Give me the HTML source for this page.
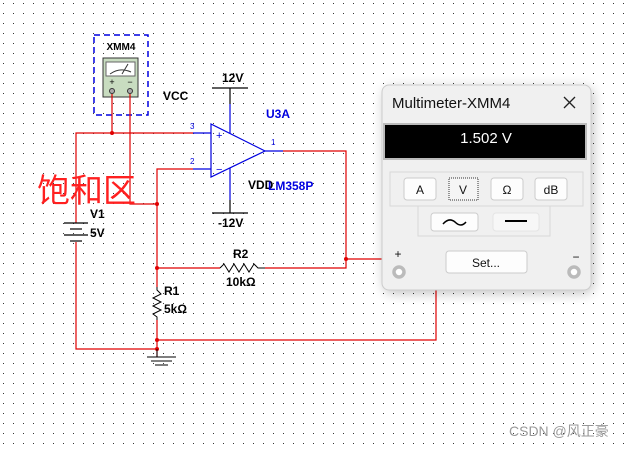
<!DOCTYPE html>
<html><head><meta charset="utf-8"><style>
body{margin:0;width:624px;height:447px;overflow:hidden;background:#fff;font-family:"Liberation Sans",sans-serif}
</style></head><body>
<svg width="624" height="447" xmlns="http://www.w3.org/2000/svg" font-family="Liberation Sans, sans-serif">
<defs>
<pattern id="d" x="3" y="3" width="10" height="10" patternUnits="userSpaceOnUse"><rect width="1" height="1" fill="#333"/></pattern>
<filter id="sh" x="-20%" y="-20%" width="140%" height="140%"><feGaussianBlur stdDeviation="6"/></filter>
</defs>
<rect width="624" height="447" fill="url(#d)"/>
<!-- XMM4 -->
<rect x="94" y="35" width="54" height="80" fill="none" stroke="#0000e0" stroke-width="1.5" stroke-dasharray="6,4"/>
<text x="121" y="50" font-size="10" text-anchor="middle" font-weight="bold">XMM4</text>
<rect x="103" y="58" width="35" height="39" fill="#c8dcc0" stroke="#333"/>
<rect x="106" y="62" width="29" height="14" fill="#fff" stroke="#666"/>
<path d="M110 74 Q120 67 131 72" fill="none" stroke="#333"/><line x1="122" y1="74" x2="128" y2="64" stroke="#333"/>
<text x="112" y="85" font-size="9" text-anchor="middle">+</text><text x="130" y="85" font-size="9" text-anchor="middle">−</text>
<circle cx="112" cy="91" r="2.5" fill="#aaa" stroke="#333"/><circle cx="130" cy="91" r="2.5" fill="#aaa" stroke="#333"/>
<g stroke="#e00000" stroke-width="1.2" fill="none">
<path d="M112 94 V133"/><path d="M130 94 V204 H157"/>
<path d="M193 133 H76 V223"/><path d="M76 242 V349 H157"/>
<path d="M193 169 H157 V287"/><path d="M157 320 V349 V357"/>
<path d="M283 151 H346 V268 H265"/><path d="M220 268 H157"/>
<path d="M346 259 H382"/><path d="M157 340 H436 V290"/>
</g>
<g fill="#e00000"><circle cx="112" cy="133" r="2"/><circle cx="157" cy="204" r="2"/><circle cx="157" cy="268" r="2"/><circle cx="346" cy="259" r="2"/><circle cx="157" cy="340" r="2"/><circle cx="157" cy="349" r="2"/></g>
<path d="M220 268 L224 264 L229 272 L234 264 L239 272 L244 264 L249 272 L254 264 L258 268 H265" fill="none" stroke="#000"/>
<path d="M157 287 V290 L161 294 L153 298 L161 302 L153 306 L161 310 L153 314 L157 317 V320" fill="none" stroke="#000"/>
<g stroke="#000" stroke-width="1.2"><line x1="64" y1="223" x2="88" y2="223"/><line x1="70" y1="229" x2="82" y2="229"/><line x1="64" y1="235" x2="88" y2="235"/><line x1="70" y1="241" x2="82" y2="241"/></g>
<g stroke="#000"><line x1="157" y1="349" x2="157" y2="357"/><line x1="147" y1="357" x2="176" y2="357"/><line x1="151" y1="361" x2="172" y2="361"/><line x1="155" y1="365" x2="168" y2="365"/></g>
<g stroke="#0000e0" fill="none" stroke-width="1.2">
<path d="M211 124 L265 151 L211 177 Z"/><path d="M193 133 H211"/><path d="M193 169 H211"/><path d="M265 151 H283"/>
<path d="M230 104 V133"/><path d="M230 168 V200"/>
</g>
<g stroke="#000" stroke-width="1.2"><line x1="212" y1="88" x2="248" y2="88"/><line x1="230" y1="88" x2="230" y2="104"/><line x1="230" y1="200" x2="230" y2="213"/><line x1="212" y1="213" x2="248" y2="213"/></g>
<g fill="#0000e0" font-size="8"><text x="190" y="129">3</text><text x="190" y="164">2</text><text x="271" y="145">1</text><text x="216" y="139" font-size="11">+</text><text x="216" y="173" font-size="11">−</text></g>
<g font-size="12" font-weight="bold">
<text x="222" y="82">12V</text><text x="163" y="100">VCC</text><text x="248" y="189">VDD</text><text x="218" y="227">-12V</text>
<text x="90" y="218">V1</text><text x="90" y="237">5V</text>
<text x="233" y="258">R2</text><text x="226" y="286">10kΩ</text><text x="164" y="295">R1</text><text x="164" y="313">5kΩ</text>
<text x="266" y="118" fill="#0000e0">U3A</text><text x="268" y="190" fill="#0000e0">LM358P</text>
</g>
<text x="37" y="202" font-size="33" fill="#ff2020" font-family="Noto Sans CJK SC, sans-serif">饱和区</text>
<text x="509" y="436" font-size="14" fill="#999" font-family="Liberation Sans, Noto Sans CJK SC, sans-serif">CSDN @风正豪</text>
<rect x="384" y="88" width="209" height="205" rx="8" fill="#000" opacity="0.25" filter="url(#sh)"/>
<rect x="382" y="85" width="209" height="205" rx="7" fill="#f0f0f0" stroke="#ccc"/>
<text x="392" y="108" font-size="15" fill="#111">Multimeter-XMM4</text>
<path d="M564 97 L575 108 M575 97 L564 108" stroke="#222" stroke-width="1.3"/>
<rect x="384" y="124" width="202" height="35" fill="#000" stroke="#bbb" stroke-width="2"/>
<text x="486" y="143" font-size="15" fill="#fff" text-anchor="middle">1.502 V</text>
<rect x="390" y="172" width="193" height="34" fill="none" stroke="#d8d8d8"/>
<rect x="418" y="206" width="132" height="30" fill="none" stroke="#d8d8d8"/>
<g fill="#fdfdfd" stroke="#ccc"><rect x="404" y="178" width="32" height="22" rx="3"/><rect x="491" y="178" width="32" height="22" rx="3"/><rect x="535" y="178" width="32" height="22" rx="3"/><rect x="431" y="213" width="47" height="18" rx="3"/><rect x="446" y="251" width="81" height="22" rx="3"/></g>
<rect x="449" y="178" width="29" height="22" fill="#f5f5f5" stroke="#333" stroke-dasharray="1,1"/>
<rect x="493" y="213" width="46" height="18" rx="3" fill="#f7f7f7" stroke="#e4e4e4"/>
<g font-size="12" text-anchor="middle" fill="#111"><text x="420" y="194">A</text><text x="463" y="194">V</text><text x="507" y="194">Ω</text><text x="551" y="194">dB</text><text x="486" y="267">Set...</text><text x="398" y="258">+</text><text x="576" y="261">−</text></g>
<path d="M443 224 Q449 217 455 222 Q461 228 466 222" fill="none" stroke="#000" stroke-width="1.5"/>
<line x1="505" y1="221" x2="527" y2="221" stroke="#000" stroke-width="2"/>
<circle cx="399" cy="272" r="5" fill="#fff" stroke="#bbb" stroke-width="3.5"/>
<circle cx="574" cy="272" r="5" fill="#fff" stroke="#bbb" stroke-width="3.5"/>
</svg>
</body></html>
